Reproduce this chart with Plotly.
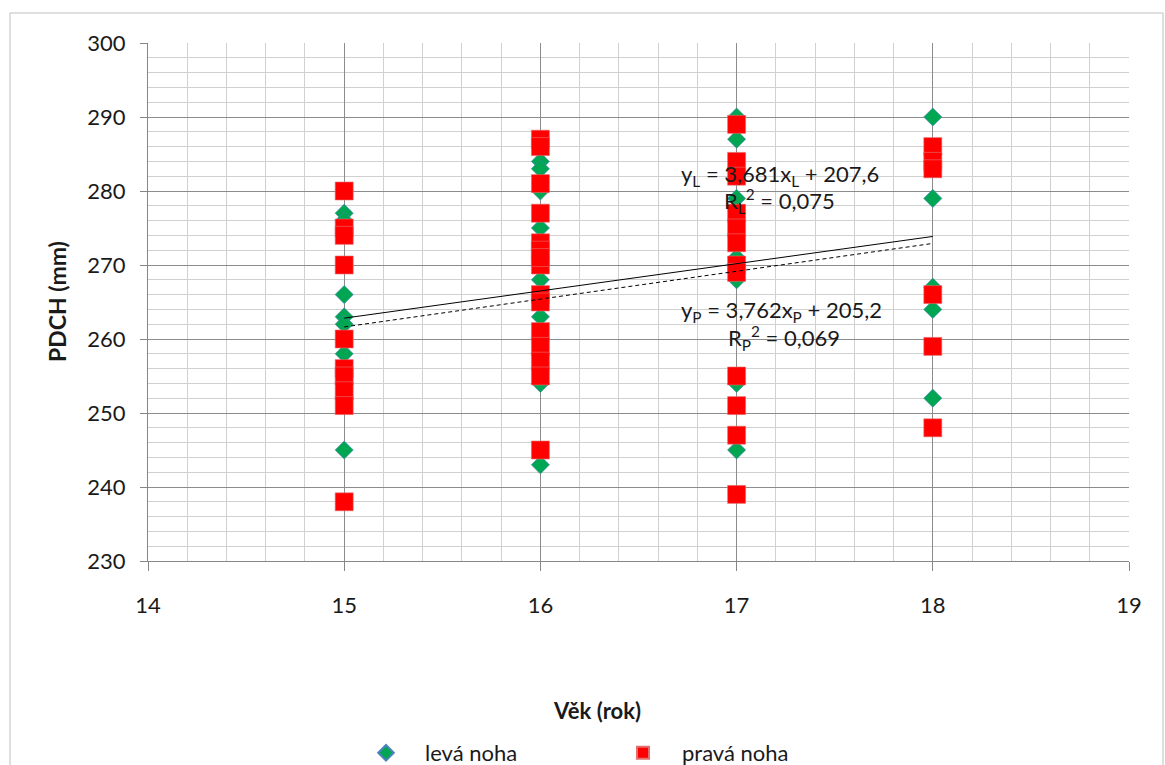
import plotly.graph_objects as go

# ---- data ----
ages_L = [15]*7 + [16]*8 + [17]*7 + [18]*5
vals_L = [277, 276, 266, 263, 262, 258, 245,
          284, 283, 280, 275, 268, 263, 254, 243,
          290, 287, 279, 271, 268, 254, 245,
          290, 279, 267, 264, 252]

ages_P = [15]*10 + [16]*15 + [17]*12 + [18]*6
vals_P = [280, 275, 270, 260, 256, 255, 253, 251, 238, 274,
          287, 286, 281, 277, 273, 272, 270, 266, 265, 261, 259, 257, 255, 245, 271,
          289, 284, 282, 277, 275, 273, 270, 269, 255, 251, 247, 239,
          286, 284, 283, 266, 259, 248]

# trend-line coefficients (slope, intercept) as printed on the chart
trend_L = (3.681, 207.6)
trend_P = (3.762, 205.2)

x_ticks = [14, 15, 16, 17, 18, 19]
y_ticks = [230, 240, 250, 260, 270, 280, 290, 300]

FONT = "Lato"
TXT = "#1a1a1a"

fig = go.Figure()

fig.add_trace(go.Scatter(
    x=ages_L, y=vals_L, mode="markers", name="levá noha",
    marker=dict(symbol="diamond", size=14, color="#00A651",
                line=dict(width=0.6, color="#4F81BD")),
))
fig.add_trace(go.Scatter(
    x=ages_P, y=vals_P, mode="markers", name="pravá noha",
    marker=dict(symbol="square", size=18, color="#FF0000",
                line=dict(width=0.6, color="#E07070")),
))

xmin, xmax = min(ages_L), max(ages_L)
fig.add_trace(go.Scatter(
    x=[xmin, xmax], y=[trend_L[0]*xmin + trend_L[1], trend_L[0]*xmax + trend_L[1]],
    mode="lines", line=dict(color="black", width=1), showlegend=False, hoverinfo="skip",
))
fig.add_trace(go.Scatter(
    x=[xmin, xmax], y=[trend_P[0]*xmin + trend_P[1], trend_P[0]*xmax + trend_P[1]],
    mode="lines", line=dict(color="black", width=1, dash="4px,3px"), showlegend=False,
    hoverinfo="skip",
))

fig.update_layout(
    width=1165, height=765,
    margin=dict(l=148, r=36, t=43, b=204, autoexpand=False),
    paper_bgcolor="white", plot_bgcolor="white",
    font=dict(family=FONT, size=22, color=TXT),
    showlegend=True,
    legend=dict(
        orientation="h", x=(347-148)/981, xanchor="left",
        y=(561-753)/518, yanchor="middle",
        font=dict(family=FONT, size=22, color=TXT),
        itemsizing="constant", itemwidth=68,
        entrywidth=174, entrywidthmode="pixels",
        bgcolor="rgba(0,0,0,0)",
    ),
    xaxis=dict(
        range=[14, 19], tickvals=x_ticks, ticktext=[str(v) for v in x_ticks],
        showgrid=True, gridcolor="#8C8C8C", gridwidth=1,
        minor=dict(dtick=0.2, showgrid=True, gridcolor="#D0D0D0", gridwidth=1),
        showline=True, linecolor="#868686", linewidth=1,
        ticks="outside", ticklen=9, tickcolor="#868686",
        ticklabelstandoff=16,
        tickfont=dict(family=FONT, size=22, color=TXT),
        zeroline=False,
    ),
    yaxis=dict(
        range=[230, 300], tickvals=y_ticks, ticktext=[str(v) for v in y_ticks],
        showgrid=True, gridcolor="#8C8C8C", gridwidth=1,
        minor=dict(dtick=2, showgrid=True, gridcolor="#D0D0D0", gridwidth=1),
        showline=True, linecolor="#868686", linewidth=1,
        ticks="outside", ticklen=7, tickcolor="#868686",
        ticklabelstandoff=10,
        tickfont=dict(family=FONT, size=22, color=TXT),
        zeroline=False,
    ),
    annotations=[
        dict(text="<b>Věk (rok)</b>", xref="paper", yref="paper",
             x=(597-148)/981, y=(561-710)/518, xanchor="center", yanchor="middle",
             showarrow=False, font=dict(family=FONT, size=22, color=TXT)),
        dict(text="<b>PDCH (mm)</b>", xref="paper", yref="paper",
             x=(57-148)/981, y=(561-302)/518, xanchor="center", yanchor="middle",
             showarrow=False, textangle=-90,
             font=dict(family=FONT, size=23, color=TXT)),
        dict(text="y<sub>L</sub> = 3,681x<sub>L</sub> + 207,6", xref="x", yref="y",
             x=17.221, y=282.2, showarrow=False,
             font=dict(family=FONT, size=22, color=TXT)),
        dict(text="R<sub>L</sub><sup>2</sup> = 0,075", xref="x", yref="y",
             x=17.221, y=278.6, showarrow=False,
             font=dict(family=FONT, size=22, color=TXT)),
        dict(text="y<sub>P</sub> = 3,762x<sub>P</sub> + 205,2", xref="x", yref="y",
             x=17.231, y=263.8, showarrow=False,
             font=dict(family=FONT, size=22, color=TXT)),
        dict(text="R<sub>P</sub><sup>2</sup> = 0,069", xref="x", yref="y",
             x=17.242, y=260.1, showarrow=False,
             font=dict(family=FONT, size=22, color=TXT)),
    ],
    shapes=[
        dict(type="rect", xref="paper", yref="paper",
             x0=(10-148)/981, x1=(1163-148)/981,
             y0=(561-800)/518, y1=(561-13)/518,
             line=dict(color="#BFBFBF", width=1), fillcolor="rgba(0,0,0,0)",
             layer="below"),
    ],
)

fig.write_html("out.html")
